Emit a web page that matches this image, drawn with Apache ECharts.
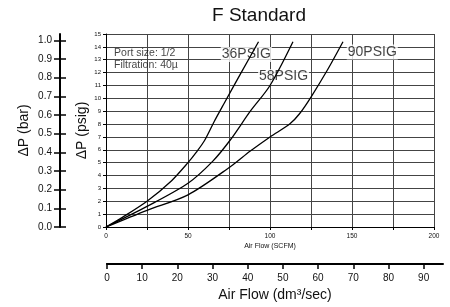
<!DOCTYPE html>
<html>
<head>
<meta charset="utf-8">
<script src="https://cdn.jsdelivr.net/npm/echarts@6/dist/echarts.min.js"></script>
<style>
  html, body { margin: 0; padding: 0; background: #fff; }
  #chart { width: 450px; height: 307px; position: absolute; left: 0; top: 0; transform: scale(1); transform-origin: 0 0; }
</style>
</head>
<body>
<div id="chart"></div>
<script>
// values
const scfmLabels = [0, 50, 100, 150, 200];
const barTicks = [0, 0.1, 0.2, 0.3, 0.4, 0.5, 0.6, 0.7, 0.8, 0.9, 1.0];
const dmTicks = [0, 10, 20, 30, 40, 50, 60, 70, 80, 90];

// [air flow SCFM, pressure drop psig]
const curve36 = [[0, 0], [10, 0.75], [25, 2.0], [40, 3.6], [50, 5.0], [55, 5.8], [60, 6.7],
  [66, 8.2], [72, 9.6], [82, 11.9], [93, 14.4]];
const curve58 = [[0, 0], [25, 1.6], [50, 3.4], [65, 5.1], [76, 6.8], [88, 9.0],
  [100, 11.0], [114, 14.4]];
const curve90 = [[0, 0], [25, 1.3], [50, 2.5], [76, 4.7], [88, 5.9], [100, 7.0],
  [112, 8.0], [118, 8.8], [125, 10.1], [135, 12.2], [144.5, 14.4]];

const curveNames = ['36PSIG', '58PSIG', '90PSIG'];
const curveLabelAt = [[70, 13.4], [92.7, 11.7], [146.8, 13.6]];

const notes = ['Port size: 1/2', 'Filtration: 40\u00b5'];
const noteAt = [[4.9, 13.5], [4.9, 12.6]];

const PSI_PER_BAR = 14.5;
const FONT = '"Liberation Sans", Arial, sans-serif';
const INK = '#111';

const chart = echarts.init(document.getElementById('chart'));

function lineSeries(name, data) {
  return {
    name,
    type: 'line',
    data,
    smooth: 0.3,
    symbol: 'none',
    z: 5,
    lineStyle: { color: '#000', width: 1.3 }
  };
}

// pressure in bar, drawn as its own thin grid over the same height as the psig plot
function barAxis(inside) {
  return {
    gridIndex: 2,
    type: 'value',
    position: 'left',
    min: 0,
    max: 15 / PSI_PER_BAR,
    axisLine: { show: !inside, lineStyle: { color: '#000', width: 2 } },
    axisTick: { show: true, inside, length: 6, customValues: barTicks, lineStyle: { color: '#000', width: 1.5 } },
    axisLabel: {
      show: !inside,
      customValues: barTicks,
      formatter: (v) => v.toFixed(1),
      fontSize: 10,
      margin: 8,
      color: INK,
      fontFamily: FONT
    },
    splitLine: { show: false },
    name: inside ? '' : '\u0394P (bar)',
    nameLocation: 'middle',
    nameGap: 29,
    nameMoveOverlap: false,
    nameTextStyle: { fontSize: 14, color: INK, fontFamily: FONT }
  };
}

function dmAxis(inside) {
  return {
    gridIndex: 1,
    type: 'value',
    min: 0,
    max: 95.5,
    axisLine: { show: !inside, lineStyle: { color: '#000', width: 2 } },
    axisTick: { show: true, inside, length: 5, customValues: dmTicks, lineStyle: { color: '#000', width: 1.5 } },
    axisLabel: {
      show: !inside,
      customValues: dmTicks,
      fontSize: 10,
      margin: 9,
      color: INK,
      fontFamily: FONT
    },
    splitLine: { show: false },
    name: inside ? '' : 'Air Flow (dm\u00b3/sec)',
    nameLocation: 'middle',
    nameGap: 24,
    nameMoveOverlap: false,
    nameTextStyle: { fontSize: 14, color: INK, fontFamily: FONT }
  };
}

// curve names get a white box; the two notes are plain text
const textItems = curveNames.map((name, i) => ({ name, value: curveLabelAt[i] }))
  .concat(notes.map((name, i) => ({
    name,
    value: noteAt[i],
    label: { fontSize: 10.5, backgroundColor: 'transparent', padding: 0 }
  })));

chart.setOption({
  animation: false,
  backgroundColor: '#fff',
  title: {
    text: 'F Standard',
    left: 207,
    top: 1,
    textStyle: { fontSize: 19, fontWeight: 'normal', color: INK, fontFamily: FONT }
  },
  grid: [
    { left: 106, top: 34, width: 328, height: 193 },
    { left: 107, top: 263, width: 336, height: 1 },
    { left: 60, top: 34, width: 1, height: 193 }
  ],
  xAxis: [
    {
      gridIndex: 0,
      type: 'value',
      min: 0,
      max: 200,
      interval: 25,
      axisLine: { lineStyle: { color: '#000', width: 1 } },
      axisTick: { length: 3, lineStyle: { color: '#000' } },
      axisLabel: { customValues: scfmLabels, fontSize: 6.5, margin: 6, color: INK, fontFamily: FONT },
      splitLine: { show: true, lineStyle: { color: '#444', width: 1 } },
      name: 'Air Flow (SCFM)',
      nameLocation: 'middle',
      nameGap: 16,
      nameMoveOverlap: false,
      nameTextStyle: { fontSize: 7, color: INK, fontFamily: FONT }
    },
    dmAxis(false),
    dmAxis(true),
    { gridIndex: 2, type: 'value', show: false }
  ],
  yAxis: [
    {
      gridIndex: 0,
      type: 'value',
      min: 0,
      max: 15,
      interval: 1,
      axisLine: { lineStyle: { color: '#000', width: 1 } },
      axisTick: { length: 3, lineStyle: { color: '#000' } },
      axisLabel: { fontSize: 6, margin: 5, color: INK, fontFamily: FONT },
      splitLine: { show: true, lineStyle: { color: '#444', width: 1 } },
      name: '\u0394P (psig)',
      nameLocation: 'middle',
      nameGap: 17,
      nameMoveOverlap: false,
      nameTextStyle: { fontSize: 14, color: INK, fontFamily: FONT }
    },
    barAxis(false),
    barAxis(true),
    { gridIndex: 1, type: 'value', show: false }
  ],
  series: [
    lineSeries(curveNames[0], curve36),
    lineSeries(curveNames[1], curve58),
    lineSeries(curveNames[2], curve90),
    {
      type: 'scatter',
      symbolSize: 0,
      z: 3,
      silent: true,
      data: textItems,
      label: {
        show: true,
        position: 'right',
        distance: 0,
        formatter: '{b}',
        fontSize: 14,
        color: INK,
        fontFamily: FONT,
        backgroundColor: '#fff',
        padding: [1, 1, 0, 1]
      }
    }
  ]
});
</script>
</body>
</html>
